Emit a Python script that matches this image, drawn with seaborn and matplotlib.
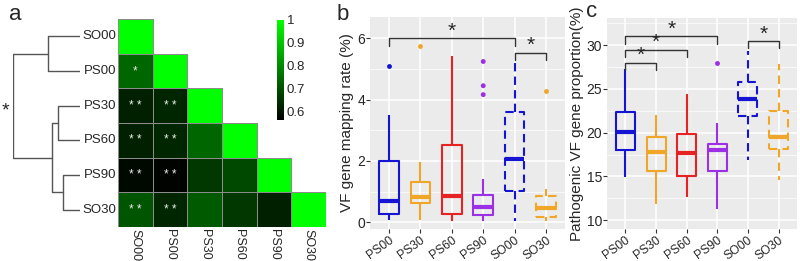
import numpy as np
import pandas as pd
import seaborn as sns
import matplotlib
import matplotlib.pyplot as plt
from matplotlib.colors import LinearSegmentedColormap
from matplotlib.ticker import MultipleLocator

matplotlib.use("Agg")

# ---- Daten: Panel a (Ähnlichkeitsmatrix, untere Dreiecksmatrix) ----
heat_labels = ["SO00", "PS00", "PS30", "PS60", "PS90", "SO30"]
sim_rows = [
    [1.00],
    [0.74, 1.00],
    [0.62, 0.63, 1.00],
    [0.62, 0.63, 0.74, 1.00],
    [0.58, 0.57, 0.66, 0.69, 1.00],
    [0.71, 0.63, 0.72, 0.66, 0.62, 1.00],
]
star_rows = [
    [""],
    ["*", ""],
    ["* *", "* *", ""],
    ["* *", "* *", "", ""],
    ["* *", "* *", "", "", ""],
    ["* *", "* *", "", "", "", ""],
]
# Dendrogramm: (links, rechts, Höhe)
tree = (("SO00", "PS00", 32), (("PS30", "PS60", 22), ("PS90", "SO30", 17), 28), 67)

# ---- Daten: Panel b/c (Boxplot-Kennwerte) ----
groups = ["PS00", "PS30", "PS60", "PS90", "SO00", "SO30"]
colors = ["#1414D2", "#F0A628", "#E62222", "#9B30E6", "#1414D2", "#F0A628"]
dashed_groups = ["SO00", "SO30"]

map_low = [0.08, 0.08, 0.05, 0.05, 0.03, 0.05]
map_q1 = [0.27, 0.62, 0.27, 0.25, 1.03, 0.16]
map_med = [0.68, 0.83, 0.86, 0.49, 2.05, 0.45]
map_q3 = [2.00, 1.30, 2.52, 0.89, 3.59, 0.84]
map_high = [3.48, 1.95, 5.43, 1.40, 5.20, 1.10]
map_out_group = ["PS00", "PS30", "PS90", "PS90", "PS90", "SO30"]
map_out_val = [5.10, 5.76, 5.24, 4.45, 4.16, 4.27]
map_brackets = [("PS00", "SO00", 6.0), ("SO00", "SO30", 5.53)]

prop_low = [14.9, 11.8, 12.6, 11.3, 16.9, 14.6]
prop_q1 = [18.0, 15.6, 15.1, 15.6, 21.9, 18.1]
prop_med = [20.1, 17.8, 17.7, 18.0, 23.8, 19.5]
prop_q3 = [22.4, 19.5, 19.8, 18.7, 25.8, 22.5]
prop_high = [27.3, 22.0, 24.4, 21.1, 29.3, 27.8]
prop_out_group = ["PS90"]
prop_out_val = [28.0]
prop_brackets = [("PS00", "PS30", 28.0), ("PS00", "PS60", 29.5),
                 ("PS00", "PS90", 31.0), ("SO00", "SO30", 30.5)]

sns.set_theme(style="darkgrid", rc={"axes.facecolor": "#EBEBEB", "grid.color": "white"})
plt.rcParams["font.family"] = ["Liberation Sans", "DejaVu Sans"]

fig = plt.figure(figsize=(8, 2.61), dpi=100)
W, H = 800, 261


def px_axes(x0, y0, x1, y1):
    return fig.add_axes([x0 / W, 1 - y1 / H, (x1 - x0) / W, (y1 - y0) / H])


# ---- Panel a ----
n = len(heat_labels)
mat = np.full((n, n), np.nan)
annot = np.full((n, n), "", dtype=object)
for i, row in enumerate(sim_rows):
    for j, v in enumerate(row):
        mat[i, j] = v
        annot[i, j] = star_rows[i][j]
sim_df = pd.DataFrame(mat, index=heat_labels, columns=heat_labels)

ax_h = px_axes(118, 19, 326, 227)
ax_cb = px_axes(277, 20, 284, 120)
cmap = LinearSegmentedColormap.from_list("bg", ["#000000", "#00FF00"])
sns.heatmap(sim_df, ax=ax_h, cmap=cmap, vmin=0.564, vmax=1.0, mask=np.isnan(mat),
            annot=annot, fmt="", annot_kws={"color": "#E8F0E8", "fontsize": 8.5},
            linewidths=0.7, linecolor="#8C8C8C", cbar_ax=ax_cb, square=False)
# Gitterlinien nur für die sichtbaren Zellen
mesh = ax_h.collections[0]
edge = [(0.55, 0.55, 0.55, 1.0) if not np.isnan(v) else (0, 0, 0, 0) for v in mat.ravel()]
mesh.set_edgecolor(edge)
ax_h.set_facecolor("white")
ax_h.grid(False)
ax_h.tick_params(length=0, pad=1.5)
ax_h.set_yticklabels(heat_labels, rotation=0, fontsize=9.5)
ax_h.set_xticklabels(heat_labels, rotation=270, fontsize=9, va="top", ha="center")
ax_h.set_xlabel("")
ax_h.set_ylabel("")
cb = mesh.colorbar
cb.set_ticks([0.6, 0.7, 0.8, 0.9, 1.0])
cb.set_ticklabels(["0.6", "0.7", "0.8", "0.9", "1"])
cb.outline.set_visible(False)
ax_cb.tick_params(length=0, labelsize=9.5, pad=2)

# Dendrogramm
ax_d = px_axes(13, 19, 80, 227)
ax_d.set_xlim(67, 0)
ax_d.set_ylim(n, 0)
ax_d.axis("off")


def draw(node):
    if isinstance(node, str):
        return heat_labels.index(node) + 0.5, 0
    y1, h1 = draw(node[0])
    y2, h2 = draw(node[1])
    h = node[2]
    ax_d.plot([h1, h, h, h2], [y1, y1, y2, y2], color="#555555", lw=1)
    return (y1 + y2) / 2, h


root_y, root_h = draw(tree)
ax_d.text(root_h + 4, root_y + 0.15, "*", ha="right", va="center", fontsize=14, clip_on=False)
fig.text(9 / W, 1 - 14 / H, "a", fontsize=16, va="center")


# ---- Panel b / c ----
def box_panel(ax, lows, q1s, meds, q3s, highs, out_g, out_v, brackets, ylabel, yrange):
    rows = []
    for g, a, b_, c, d, e in zip(groups, lows, q1s, meds, q3s, highs):
        for v in (a, b_, c, d, e):
            rows.append({"group": g, "value": v})
    df = pd.DataFrame(rows)
    pal = dict(zip(groups, colors))
    solid = df[~df["group"].isin(dashed_groups)]
    dashed = df[df["group"].isin(dashed_groups)]
    common = dict(x="group", y="value", hue="group", order=groups, hue_order=groups,
                  palette=pal, fill=False, whis=(0, 100), width=0.62, showfliers=False,
                  showcaps=False, linewidth=1.5, legend=False, ax=ax,
                  medianprops={"linewidth": 3.0})
    sns.boxplot(data=solid, **common)
    sns.boxplot(data=dashed, boxprops={"linestyle": (0, (4, 2.5))},
                whiskerprops={"linestyle": (0, (4, 2.5))}, **common)
    odf = pd.DataFrame({"group": out_g, "value": out_v})
    sns.stripplot(data=odf, x="group", y="value", hue="group", order=groups,
                  hue_order=groups, palette=pal, jitter=False, size=3.5,
                  legend=False, ax=ax, linewidth=0)
    dy = 0.035 * (yrange[1] - yrange[0])
    for g1, g2, y in brackets:
        x1, x2 = groups.index(g1), groups.index(g2)
        ax.plot([x1, x1, x2, x2], [y - dy, y, y, y - dy], color="#333333", lw=1)
        ax.text((x1 + x2) / 2, y - dy * 0.35, "*", ha="center", va="bottom", fontsize=15)
    ax.set_xlim(-0.6, 5.6)
    ax.set_ylim(*yrange)
    ax.set_xlabel("")
    ax.set_ylabel(ylabel, fontsize=11, labelpad=2)
    ax.set_xticks(range(len(groups)))
    ax.set_xticklabels(groups, rotation=36, ha="right", rotation_mode="anchor", fontsize=8.7)
    ax.tick_params(axis="y", labelsize=10)
    ax.tick_params(length=3, width=0.8, color="#333333", left=True, bottom=True, pad=0.5)
    ax.grid(which="major", color="white", lw=1.1)
    ax.grid(which="minor", axis="y", color="white", lw=0.5)
    for s in ax.spines.values():
        s.set_visible(False)


ax_b = px_axes(370, 17, 565, 229)
box_panel(ax_b, map_low, map_q1, map_med, map_q3, map_high, map_out_group, map_out_val,
          map_brackets, "VF gene mapping rate (%)", (-0.22, 6.69))
ax_b.yaxis.set_major_locator(MultipleLocator(2))
ax_b.yaxis.set_minor_locator(MultipleLocator(1))

ax_c = px_axes(607, 18, 797, 229)
box_panel(ax_c, prop_low, prop_q1, prop_med, prop_q3, prop_high, prop_out_group, prop_out_val,
          prop_brackets, "Pathogenic VF gene proportion(%)", (9.0, 33.1))
ax_c.yaxis.set_major_locator(MultipleLocator(5))
ax_c.yaxis.set_minor_locator(MultipleLocator(2.5))

fig.text(337 / W, 1 - 14 / H, "b", fontsize=16, va="center")
fig.text(586 / W, 1 - 12 / H, "c", fontsize=16, va="center")

plt.savefig("out.png", dpi=100)
